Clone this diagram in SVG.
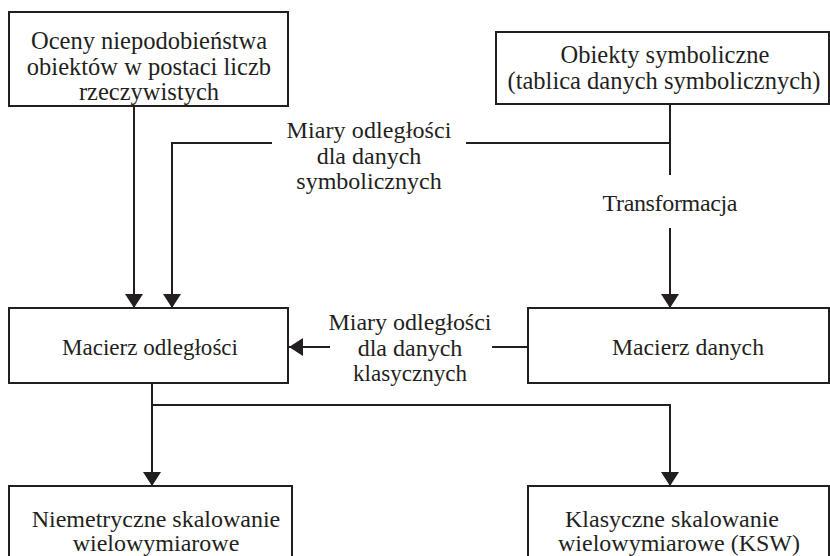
<svg xmlns="http://www.w3.org/2000/svg" width="830" height="556" viewBox="0 0 830 556">
<style>
.box{fill:#fff;stroke:#231f20;stroke-width:2}
.ln{fill:none;stroke:#231f20;stroke-width:2}
text{font-family:"Liberation Serif","Times New Roman",serif;font-size:24px;fill:#231f20;text-anchor:middle}
.big{font-size:24.5px}
</style>
<defs>
<marker id="ah" viewBox="0 0 14 18" refX="14" refY="9" markerWidth="14" markerHeight="18" markerUnits="userSpaceOnUse" orient="auto">
<path d="M0,0 L14,9 L0,18 Z" fill="#231f20"/>
</marker>
</defs>
<rect width="830" height="556" fill="#fff"/>
<g id="connectors">
<path class="ln" d="M134,106 V308" marker-end="url(#ah)"/>
<path class="ln" d="M272,143 H172 V308" marker-end="url(#ah)"/>
<path class="ln" d="M466,143 H670"/>
<path class="ln" d="M670,104 V175"/>
<path class="ln" d="M670,228 V308" marker-end="url(#ah)"/>
<path class="ln" d="M528,347 H492"/>
<path class="ln" d="M330,347 H289" marker-end="url(#ah)"/>
<path class="ln" d="M152,383 V486" marker-end="url(#ah)"/>
<path class="ln" d="M152,405 H670 V486" marker-end="url(#ah)"/>
<text x="369" y="138" textLength="165">Miary odległości</text>
<text x="369" y="164">dla danych</text>
<text x="369" y="189">symbolicznych</text>
<text x="670" y="211" textLength="135">Transformacja</text>
<text x="410" y="330" textLength="163">Miary odległości</text>
<text x="410" y="356">dla danych</text>
<text x="410" y="381" textLength="114" lengthAdjust="spacingAndGlyphs">klasycznych</text>
</g>
<g id="n1"><rect class="box" x="9" y="12" width="279" height="94"/>
<text class="big" x="149" y="49">Oceny niepodobieństwa</text>
<text class="big" x="149" y="75">obiektów w postaci liczb</text>
<text class="big" x="149" y="100">rzeczywistych</text></g>
<g id="n2"><rect class="box" x="496" y="32" width="333" height="72"/>
<text class="big" x="665" y="63">Obiekty symboliczne</text>
<text class="big" x="664" y="89">(tablica danych symbolicznych)</text></g>
<g id="n3"><rect class="box" x="9" y="308" width="279" height="75"/>
<text x="150" y="355" textLength="176" lengthAdjust="spacingAndGlyphs">Macierz odległości</text></g>
<g id="n4"><rect class="box" x="528" y="308" width="301" height="75"/>
<text x="688" y="355" textLength="152" lengthAdjust="spacingAndGlyphs">Macierz danych</text></g>
<g id="n5"><rect class="box" x="9" y="486" width="283" height="80"/>
<text x="156" y="527">Niemetryczne skalowanie</text>
<text x="156" y="551">wielowymiarowe</text></g>
<g id="n6"><rect class="box" x="528" y="486" width="301" height="80"/>
<text x="672" y="527">Klasyczne skalowanie</text>
<text x="679" y="551">wielowymiarowe (KSW)</text></g>
</svg>
